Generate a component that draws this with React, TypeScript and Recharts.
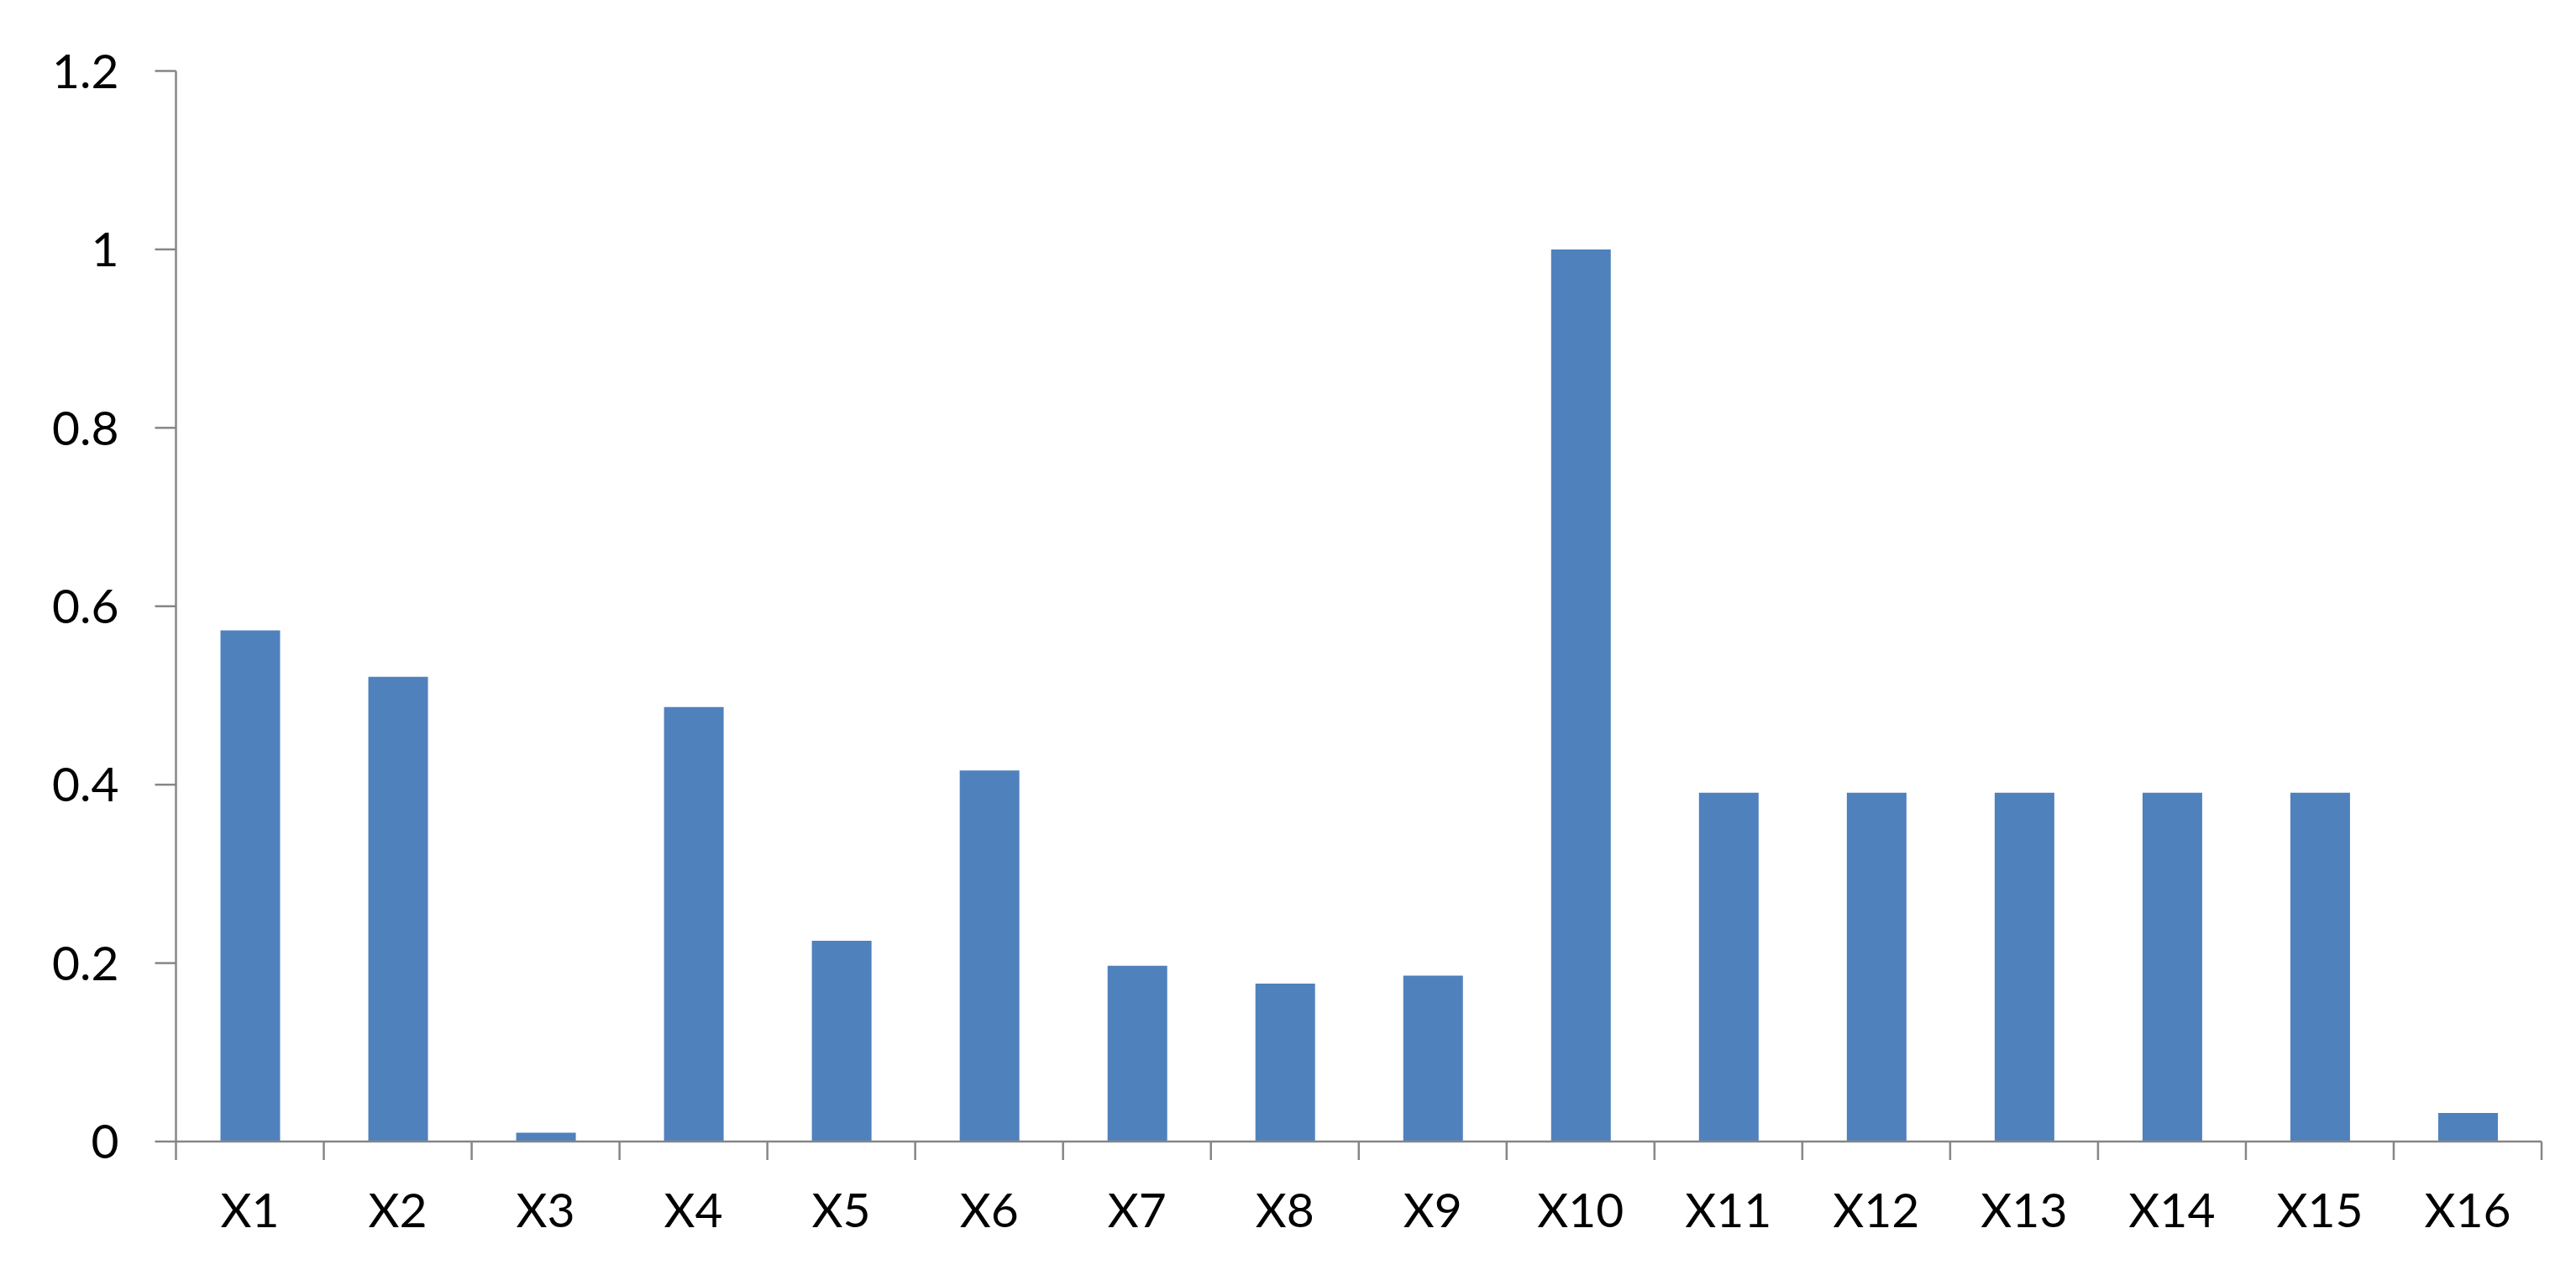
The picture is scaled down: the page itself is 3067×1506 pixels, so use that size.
import React from 'react';
import { BarChart, Bar, XAxis, YAxis } from 'recharts';

const categories = ['X1', 'X2', 'X3', 'X4', 'X5', 'X6', 'X7', 'X8', 'X9', 'X10', 'X11', 'X12', 'X13', 'X14', 'X15', 'X16'];
const values = [0.573, 0.521, 0.01, 0.487, 0.225, 0.416, 0.197, 0.177, 0.186, 1.0, 0.391, 0.391, 0.391, 0.391, 0.391, 0.032];
const yTicks = [0, 0.2, 0.4, 0.6, 0.8, 1, 1.2];

const data = categories.map((name, i) => ({ name, value: values[i] }));

const AXIS_COLOR = '#868686';
const FONT = 'Lato, "Liberation Sans", sans-serif';
const X_TICK_SIZE = 22;
const X_TICK_MARGIN = 40;

const BoundaryTick = (props: any) => {
  const { x, y, payload, index, visibleTicksCount } = props;
  const half = payload && payload.offset != null ? payload.offset : 0;
  const y0 = y - X_TICK_MARGIN - X_TICK_SIZE;
  const y1 = y0 + X_TICK_SIZE;
  const isLast = index === visibleTicksCount - 1;
  return (
    <g>
      <line x1={x - half} x2={x - half} y1={y0} y2={y1} stroke={AXIS_COLOR} strokeWidth={2.5} />
      {isLast && <line x1={x + half} x2={x + half} y1={y0} y2={y1} stroke={AXIS_COLOR} strokeWidth={2.5} />}
      <text x={x} y={y} dy="0.71em" textAnchor="middle" fill="#000" fontSize={57} fontFamily={FONT}>
        {payload.value}
      </text>
    </g>
  );
};

export default function App() {
  return (
    <div style={{ position: 'absolute', left: 0, top: 0, background: '#fff' }}>
      <BarChart
        width={3067}
        height={1506}
        data={data}
        margin={{ top: 84.5, right: 41, bottom: 47, left: 0 }}
      >
        <XAxis
          dataKey="name"
          interval={0}
          height={100}
          tickSize={X_TICK_SIZE}
          tickMargin={X_TICK_MARGIN}
          tickLine={false}
          axisLine={{ stroke: AXIS_COLOR, strokeWidth: 2.5 }}
          tick={<BoundaryTick />}
        />
        <YAxis
          domain={[0, 1.2]}
          ticks={yTicks}
          interval={0}
          width={209.5}
          tickSize={25}
          tickMargin={43}
          axisLine={{ stroke: AXIS_COLOR, strokeWidth: 2.5 }}
          tickLine={{ stroke: AXIS_COLOR, strokeWidth: 2.5 }}
          tick={{ fill: '#000', fontSize: 57, fontFamily: FONT }}
          tickFormatter={(v: number) => String(v)}
        />
        <Bar dataKey="value" fill="#4F81BD" barSize={71} isAnimationActive={false} />
      </BarChart>
    </div>
  );
}
